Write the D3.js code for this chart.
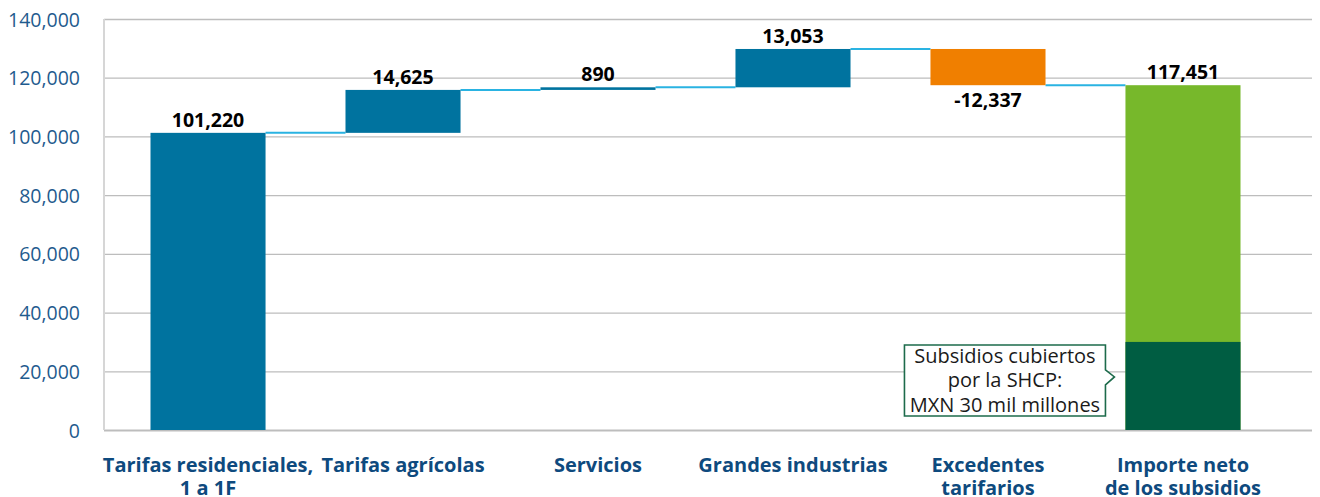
<!DOCTYPE html>
<html>
<head>
<meta charset="utf-8">
<script src="https://cdn.jsdelivr.net/npm/d3@7"></script>
<style>
  body { margin: 0; background: #fff; }
  svg { font-family: "Open Sans", "Noto Sans", sans-serif; }
</style>
</head>
<body>
<div id="chart"></div>
<script>
// data
const categories = ["res", "agr", "serv", "ind", "exc", "neto"];
const categoryLines = [
    ["Tarifas residenciales,", "1 a 1F"],
    ["Tarifas agrícolas"],
    ["Servicios"],
    ["Grandes industrias"],
    ["Excedentes", "tarifarios"],
    ["Importe neto", "de los subsidios"]
];
const values = [101220, 14625, 890, 13053, -12337, 117451];
const kinds = ["start", "delta", "delta", "delta", "delta", "total"];
const shcpCovered = 30000;
const yTicks = [0, 20000, 40000, 60000, 80000, 100000, 120000, 140000];
const noteLines = ["Subsidios cubiertos", "por la SHCP:", "MXN 30 mil millones"];

// sizes
const WIDTH = 1320, HEIGHT = 497;
const PLOT_LEFT = 104, PLOT_RIGHT = 1312, PLOT_TOP = 19, PLOT_BOTTOM = 430;
const FONT = '"Open Sans", "Noto Sans", sans-serif';

const COLOR_UP = "#00739f";
const COLOR_DOWN = "#f07f00";
const COLOR_TOTAL = "#77b82b";
const COLOR_SHCP = "#005d42";
const COLOR_LINK = "#2ab3e2";
const COLOR_AXIS_TEXT = "#1f5b8e";
const COLOR_CAT_TEXT = "#0e4a7e";

const fmt = v => d3.format(",")(v).replace("\u2212", "-");

const svg = d3.select("#chart").append("svg")
    .attr("width", WIDTH)
    .attr("height", HEIGHT);

// build waterfall steps
let running = 0;
const steps = values.map((v, i) => {
    let y0, y1;
    if (kinds[i] === "start" || kinds[i] === "total") {
        y0 = 0; y1 = v; running = v;
    } else {
        y0 = running; y1 = running + v; running = y1;
    }
    return { key: categories[i], value: v, kind: kinds[i], y0: y0, y1: y1, end: y1 };
});

const x = d3.scaleBand()
    .domain(categories)
    .range([150.5, 1240.5])
    .paddingInner(0.41)
    .paddingOuter(0);

const y = d3.scaleLinear()
    .domain([0, 140000])
    .range([PLOT_BOTTOM, PLOT_TOP]);

// grid + y axis
const yAxis = svg.append("g")
    .attr("transform", `translate(${PLOT_LEFT},0)`)
    .call(d3.axisLeft(y)
        .tickValues(yTicks)
        .tickSize(-(PLOT_RIGHT - PLOT_LEFT))
        .tickPadding(24)
        .tickFormat(fmt))
    .attr("font-family", FONT);

yAxis.select(".domain").remove();
yAxis.selectAll(".tick line")
    .attr("stroke", "#bdbdbd")
    .attr("stroke-width", d => d === 0 ? 2 : 1.3);
yAxis.selectAll(".tick text")
    .attr("fill", COLOR_AXIS_TEXT)
    .style("font-size", "19.5px")
    .attr("dy", "0.36em");

svg.append("line")
    .attr("x1", PLOT_LEFT).attr("x2", PLOT_LEFT)
    .attr("y1", PLOT_TOP).attr("y2", PLOT_BOTTOM)
    .attr("stroke", "#d6d6d6")
    .attr("stroke-width", 2);

// connectors
const links = steps.slice(0, -1).map((s, i) => ({ from: s.key, to: steps[i + 1].key, level: s.end }));
svg.append("g").selectAll("line")
    .data(links)
    .join("line")
    .attr("x1", d => x(d.from) + x.bandwidth())
    .attr("x2", d => x(d.to))
    .attr("y1", d => y(d.level))
    .attr("y2", d => y(d.level))
    .attr("stroke", COLOR_LINK)
    .attr("stroke-width", 2);

// bars
svg.append("g").selectAll("rect")
    .data(steps)
    .join("rect")
    .attr("x", d => x(d.key))
    .attr("width", x.bandwidth())
    .attr("y", d => y(Math.max(d.y0, d.y1)))
    .attr("height", d => Math.abs(y(d.y0) - y(d.y1)))
    .attr("fill", d => d.kind === "total" ? COLOR_TOTAL : (d.value < 0 ? COLOR_DOWN : COLOR_UP));

// SHCP part of the total bar
const total = steps[steps.length - 1];
svg.append("rect")
    .attr("x", x(total.key))
    .attr("width", x.bandwidth())
    .attr("y", y(shcpCovered))
    .attr("height", y(0) - y(shcpCovered))
    .attr("fill", COLOR_SHCP);

// value labels
svg.append("g").selectAll("text")
    .data(steps)
    .join("text")
    .attr("x", d => x(d.key) + x.bandwidth() / 2)
    .attr("y", d => d.value < 0 ? y(Math.min(d.y0, d.y1)) + 22 : y(Math.max(d.y0, d.y1)) - 6)
    .attr("text-anchor", "middle")
    .attr("font-weight", 700)
    .style("font-size", "19.5px")
    .attr("fill", "#000")
    .text(d => fmt(d.value));

// category labels
const cat = svg.append("g").selectAll("text")
    .data(categories)
    .join("text")
    .attr("x", d => x(d) + x.bandwidth() / 2)
    .attr("y", 472)
    .attr("text-anchor", "middle")
    .attr("font-weight", 700)
    .style("font-size", "20px")
    .attr("fill", COLOR_CAT_TEXT);

cat.selectAll("tspan")
    .data((d, i) => categoryLines[i])
    .join("tspan")
    .attr("x", function () { return d3.select(this.parentNode).attr("x"); })
    .attr("dy", (d, i) => i === 0 ? 0 : 23)
    .text(d => d);

// note box for SHCP
const boxRight = x(total.key) - 20;
const boxW = 201, boxH = 71;
const tipY = y(shcpCovered) + 35;
const boxTop = tipY - 32;
const note = svg.append("g");

note.append("path")
    .attr("d", `M${boxRight - boxW},${boxTop} H${boxRight} V${tipY - 7} L${boxRight + 9},${tipY} L${boxRight},${tipY + 8} V${boxTop + boxH} H${boxRight - boxW} Z`)
    .attr("fill", "#fff")
    .attr("stroke", "#1d6b4b")
    .attr("stroke-width", 1.6);

note.selectAll("text")
    .data(noteLines)
    .join("text")
    .attr("x", boxRight - boxW / 2)
    .attr("y", (d, i) => boxTop + 18 + i * 24.5)
    .attr("text-anchor", "middle")
    .style("font-size", "20px")
    .attr("fill", "#1a1a1a")
    .text(d => d);
</script>
</body>
</html>
